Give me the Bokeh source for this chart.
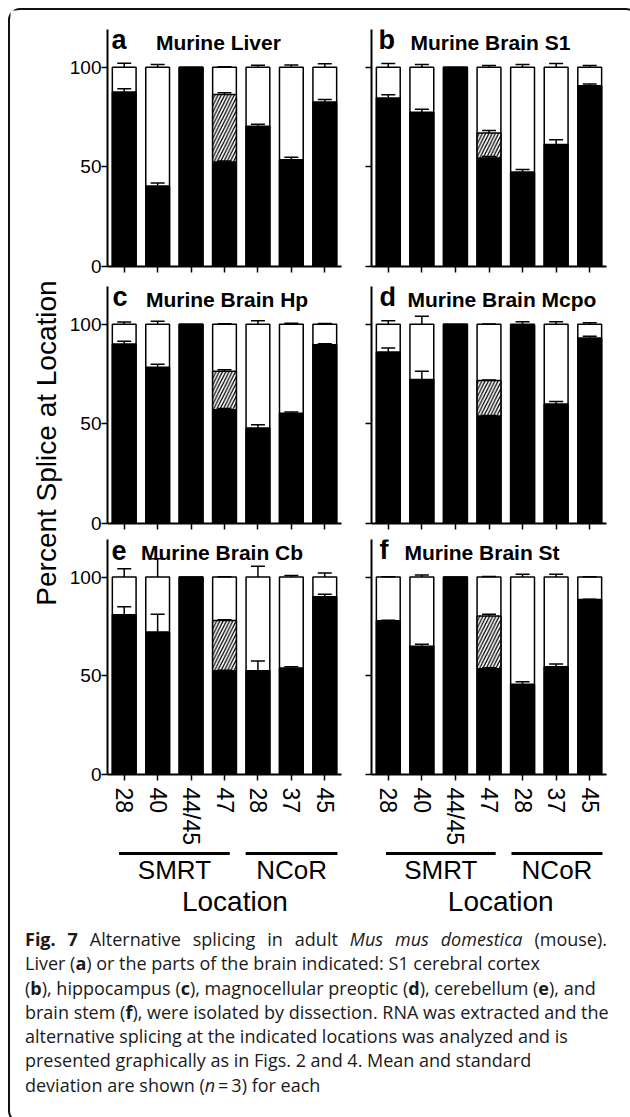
import numpy as np
from bokeh.plotting import figure
from bokeh.models import Range1d, FixedTicker, Whisker, TeeHead, ColumnDataSource, Div
from bokeh.layouts import column, row
from bokeh.core.properties import value
from bokeh.embed import file_html
from bokeh.resources import INLINE

# ---------------- data ----------------
locations = ["28", "40", "44/45", "47", "28", "37", "45"]
gene_groups = ["SMRT", "NCoR"]
group_first = [0, 4]
group_last = [3, 6]

panel_letters = ["a", "b", "c", "d", "e", "f"]
panel_titles = ["Murine Liver", "Murine Brain S1", "Murine Brain Hp",
                "Murine Brain Mcpo", "Murine Brain Cb", "Murine Brain St"]

# black = main isoform %, hatch = intermediate isoform %, remainder (white) up to 100
black_a = [87.6, 40.4, 100, 52.4, 70.4, 53.6, 82.6]
black_sd_a = [1.7, 1.5, 0, 0.6, 1.0, 1.3, 1.3]
hatch_a = [0, 0, 0, 34.0, 0, 0, 0]
hatch_sd_a = [0, 0, 0, 0.9, 0, 0, 0]
total_sd_a = [2.0, 1.4, 0, 0.3, 1.0, 1.2, 1.8]

black_b = [84.6, 77.4, 100, 54.4, 47.4, 61.3, 90.8]
black_sd_b = [1.7, 1.5, 0, 0.8, 1.3, 2.4, 0.8]
hatch_b = [0, 0, 0, 12.6, 0, 0, 0]
hatch_sd_b = [0, 0, 0, 1.3, 0, 0, 0]
total_sd_b = [1.9, 1.4, 0, 0.9, 1.4, 1.9, 0.9]

black_c = [90.1, 78.4, 100, 57.1, 47.9, 55.4, 89.8]
black_sd_c = [1.4, 1.6, 0, 0.6, 1.7, 0.6, 0.5]
hatch_c = [0, 0, 0, 19.3, 0, 0, 0]
hatch_sd_c = [0, 0, 0, 0.8, 0, 0, 0]
total_sd_c = [1.2, 1.5, 0, 0.3, 1.8, 0.6, 0.4]

black_d = [86.1, 72.3, 100, 53.8, 99.3, 60.0, 93.2]
black_sd_d = [2.0, 4.1, 0, 0.4, 0.3, 1.2, 0.8]
hatch_d = [0, 0, 0, 18.0, 0, 0, 0]
hatch_sd_d = [0, 0, 0, 0.3, 0, 0, 0]
total_sd_d = [1.8, 4.1, 0, 0.2, 1.3, 1.3, 0.8]

black_e = [80.9, 72.2, 100, 52.5, 52.5, 53.9, 90.0]
black_sd_e = [4.1, 9.0, 0, 0.3, 5.0, 0.6, 1.3]
hatch_e = [0, 0, 0, 25.5, 0, 0, 0]
hatch_sd_e = [0, 0, 0, 0.3, 0, 0, 0]
total_sd_e = [4.2, 9.2, 0, 0.2, 5.4, 0.8, 2.0]

black_f = [77.8, 65.0, 100, 53.4, 45.7, 54.5, 88.6]
black_sd_f = [0.3, 0.9, 0, 0.7, 1.3, 1.5, 0.2]
hatch_f = [0, 0, 0, 26.9, 0, 0, 0]
hatch_sd_f = [0, 0, 0, 0.9, 0, 0, 0]
total_sd_f = [0.2, 1.0, 0, 0.3, 1.4, 1.4, 0.2]

y_ticks = [0, 50, 100]
y_label = "Percent Splice at Location"
x_label = "Location"

FONT = "Liberation Sans"
FRAME_H = 237
YL_W, LEFT_W, RIGHT_W = 56, 290, 270
LEFT_MB = (38, 15)
RIGHT_MB = (15, 20)
BR_H = 76


def whisker(p, xs, lows, sds):
    xs2 = [x for x, s in zip(xs, sds) if s > 0]
    lo = [l for l, s in zip(lows, sds) if s > 0]
    hi = [l + s for l, s in zip(lows, sds) if s > 0]
    src = ColumnDataSource(dict(x=xs2, lo=lo, hi=hi))
    w = Whisker(base="x", lower="lo", upper="hi", source=src, dimension="height",
                lower_head=None,
                upper_head=TeeHead(size=14, line_width=1.5, line_color="black"),
                line_width=1.5, line_color="black", level="overlay")
    p.add_layout(w)


def make_panel(letter, title, letter_x, title_x, black, black_sd, hatch, hatch_sd,
               total_sd, is_left, is_bottom, mb_top, mb_bottom, xr):
    w = LEFT_W if is_left else RIGHT_W
    mbl, mbr = LEFT_MB if is_left else RIGHT_MB
    p = figure(width=w, height=mb_top + FRAME_H + mb_bottom, x_range=xr,
               y_range=Range1d(0, 119), output_backend="svg", toolbar_location=None,
               min_border_left=mbl, min_border_right=mbr,
               min_border_top=mb_top, min_border_bottom=mb_bottom)
    p.outline_line_color = None
    p.grid.visible = False
    p.background_fill_color = "white"
    p.border_fill_color = "white"

    xs = list(range(len(locations)))
    bw = 0.71
    p.vbar(x=xs, width=bw, bottom=0, top=100, fill_color="white",
           line_color="black", line_width=1.5)
    hx = [x for x, h in zip(xs, hatch) if h > 0]
    hb = [b for b, h in zip(black, hatch) if h > 0]
    ht = [b + h for b, h in zip(black, hatch) if h > 0]
    p.vbar(x=hx, width=bw, bottom=hb, top=ht, fill_color="white",
           hatch_pattern="/", hatch_color="black", hatch_scale=6.5, hatch_weight=1.3,
           line_color="black", line_width=1.5)
    p.vbar(x=xs, width=bw, bottom=0, top=black, fill_color="black",
           line_color="black", line_width=1.5)

    whisker(p, xs, black, black_sd)
    whisker(p, xs, [b + h for b, h in zip(black, hatch)], hatch_sd)
    whisker(p, xs, [100] * len(xs), total_sd)

    p.text(x=[letter_x], y=[113.6], text=[letter], text_font=value(FONT),
           text_font_style="bold", text_font_size="27px", text_baseline="middle",
           text_align="left", text_color="black")
    p.text(x=[title_x], y=[112.6], text=[title], text_font=value(FONT),
           text_font_style="bold", text_font_size="21px", text_baseline="middle",
           text_align="left", text_color="black")

    xa = p.xaxis[0]
    xa.ticker = FixedTicker(ticks=xs)
    xa.major_label_overrides = {i: loc for i, loc in enumerate(locations)}
    xa.axis_line_width = 2
    xa.major_tick_line_width = 1.5
    xa.major_tick_out = 6
    xa.major_tick_in = 0
    xa.minor_tick_out = 0
    xa.minor_tick_in = 0
    if is_bottom:
        xa.major_label_orientation = "vertical"
        xa.major_label_text_font = FONT
        xa.major_label_text_font_size = "23px"
        xa.major_label_text_color = "black"
        xa.major_label_standoff = 7
    else:
        xa.major_label_text_font_size = "1px"
        xa.major_label_text_color = None
        xa.major_label_standoff = 0

    ya = p.yaxis[0]
    ya.ticker = FixedTicker(ticks=y_ticks)
    ya.axis_line_width = 2
    ya.major_tick_line_width = 1.5
    ya.major_tick_out = 6
    ya.major_tick_in = 0
    ya.minor_tick_out = 0
    ya.minor_tick_in = 0
    if is_left:
        ya.major_label_text_font = FONT
        ya.major_label_text_font_size = "19px"
        ya.major_label_text_color = "black"
        ya.major_label_standoff = 0
    else:
        ya.major_label_text_font_size = "1px"
        ya.major_label_text_color = None
        ya.major_label_standoff = 0
    return p


def make_bracket(xr, is_left):
    w = LEFT_W if is_left else RIGHT_W
    mbl, mbr = LEFT_MB if is_left else RIGHT_MB
    b = figure(width=w, height=BR_H, x_range=xr, y_range=Range1d(0, BR_H),
               output_backend="svg", toolbar_location=None,
               min_border_left=mbl, min_border_right=mbr,
               min_border_top=0, min_border_bottom=0)
    b.axis.visible = False
    b.grid.visible = False
    b.outline_line_color = None
    x0 = [f - 0.07 if i == 0 else f - 0.33 for i, f in enumerate(group_first)]
    x1 = [l + 0.2 if i == 0 else l + 0.38 for i, l in enumerate(group_last)]
    b.segment(x0=x0, y0=[BR_H - 5] * 2, x1=x1, y1=[BR_H - 5] * 2, line_color="black",
              line_width=3)
    centers = [(a + c) / 2 for a, c in zip(x0, x1)]
    b.text(x=centers, y=[BR_H - 21] * 2, text=gene_groups, text_font=value(FONT),
           text_font_size="26px", text_align="center", text_baseline="middle",
           text_color="black")
    b.text(x=[3.35], y=[BR_H - 53], text=[x_label], text_font=value(FONT),
           text_font_size="28px", text_align="center", text_baseline="middle",
           text_color="black")
    return b


xr_left = Range1d(-0.5, 6.5)
xr_right = Range1d(-0.5, 6.5)

pa = make_panel(panel_letters[0], panel_titles[0], -0.38, 0.95, black_a, black_sd_a,
                hatch_a, hatch_sd_a, total_sd_a, True, False, 19, 10, xr_left)
pb = make_panel(panel_letters[1], panel_titles[1], -0.29, 0.66, black_b, black_sd_b,
                hatch_b, hatch_sd_b, total_sd_b, False, False, 19, 10, xr_right)
pc = make_panel(panel_letters[2], panel_titles[2], -0.35, 0.65, black_c, black_sd_c,
                hatch_c, hatch_sd_c, total_sd_c, True, False, 10, 10, xr_left)
pd = make_panel(panel_letters[3], panel_titles[3], -0.26, 0.57, black_d, black_sd_d,
                hatch_d, hatch_sd_d, total_sd_d, False, False, 10, 10, xr_right)
pe = make_panel(panel_letters[4], panel_titles[4], -0.38, 0.50, black_e, black_sd_e,
                hatch_e, hatch_sd_e, total_sd_e, True, True, 6, 72, xr_left)
pf = make_panel(panel_letters[5], panel_titles[5], -0.26, 0.48, black_f, black_sd_f,
                hatch_f, hatch_sd_f, total_sd_f, False, True, 6, 72, xr_right)

bre = make_bracket(xr_left, True)
brf = make_bracket(xr_right, False)

TOTAL_H = 266 + 257 + 315 + BR_H
yl = figure(width=YL_W, height=TOTAL_H, x_range=Range1d(0, YL_W),
            y_range=Range1d(0, TOTAL_H), output_backend="svg", toolbar_location=None,
            min_border=0)
yl.axis.visible = False
yl.grid.visible = False
yl.outline_line_color = None
yl.text(x=[35.5], y=[TOTAL_H - 432.5], text=[y_label], angle=np.pi / 2,
        text_font=value(FONT), text_font_size="28px", text_align="center",
        text_baseline="middle", text_color="black")

caption_lines = [
    '<b>Fig. 7</b> Alternative splicing in adult <i>Mus mus domestica</i> (mouse).',
    'Liver (<b>a</b>) or the parts of the brain indicated: S1 cerebral cortex',
    '(<b>b</b>), hippocampus (<b>c</b>), magnocellular preoptic (<b>d</b>), cerebellum (<b>e</b>), and',
    'brain stem (<b>f</b>), were isolated by dissection. RNA was extracted and the',
    'alternative splicing at the indicated locations was analyzed and is',
    'presented graphically as in Figs. 2 and 4. Mean and standard',
    'deviation are shown (<i>n</i>&#8201;=&#8201;3) for each',
]
inner = ""
for i, ln in enumerate(caption_lines):
    extra = "text-align:justify;text-align-last:justify;" if i == 0 else ""
    inner += f'<div style="white-space:nowrap;{extra}">{ln}</div>'
caption_html = ('<div style="font-family:\'Open Sans\';font-size:18px;line-height:24.3px;'
                'color:#1a1a1a;margin:-2px 0 0 10px;width:582px;">' + inner + '</div>')
caption = Div(text=caption_html, width=YL_W + LEFT_W + RIGHT_W, height=187)

grid = column(row(pa, pb), row(pc, pd), row(pe, pf), row(bre, brf))
top = row(yl, grid)
layout = column(top, caption,
                styles={"border": "2px solid #111", "border-radius": "12px",
                        "background-color": "white", "margin-left": "8px",
                        "margin-top": "8px"})

open("out.html", "w").write(file_html(layout, INLINE))
